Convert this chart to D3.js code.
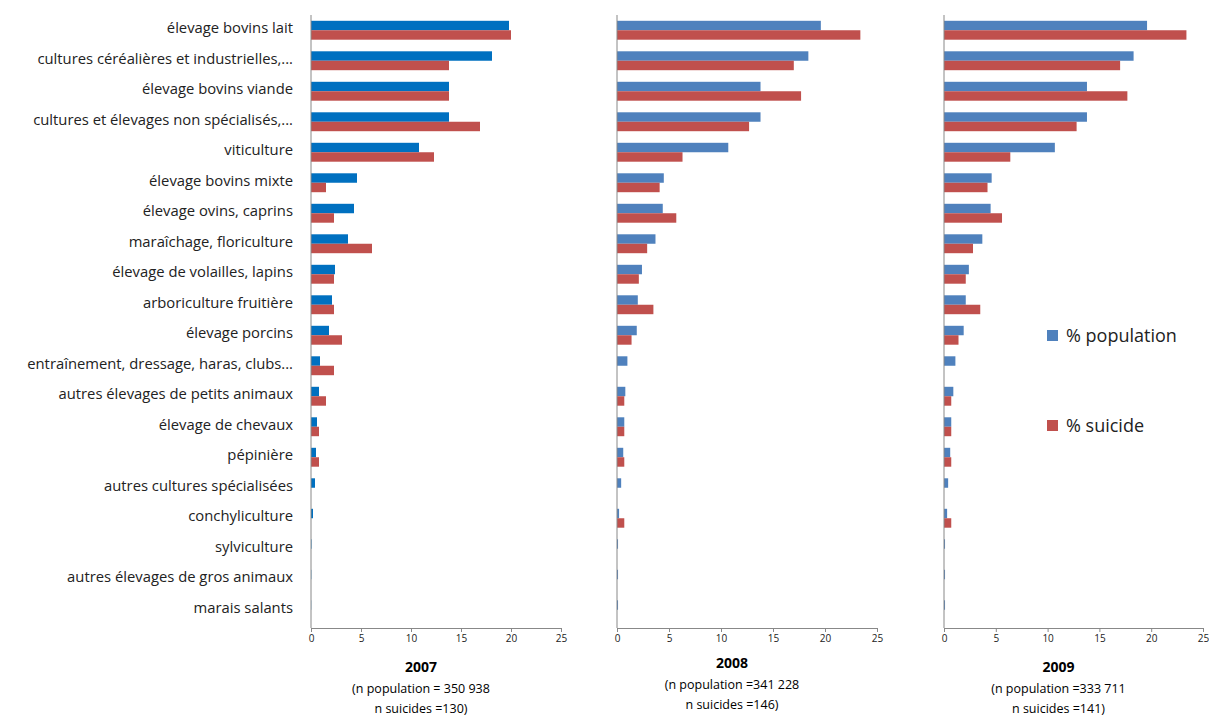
<!DOCTYPE html>
<html><head><meta charset="utf-8">
<script src="https://cdn.jsdelivr.net/npm/d3@7"></script>
<style>body{margin:0;background:#fff;font-family:"Open Sans",sans-serif;}</style>
</head><body><div id="chart"></div>
<script>
const categories = ["élevage bovins lait","cultures céréalières et industrielles,...","élevage bovins viande","cultures et élevages non spécialisés,...","viticulture","élevage bovins mixte","élevage ovins, caprins","maraîchage, floriculture","élevage de volailles, lapins","arboriculture fruitière","élevage porcins","entraînement, dressage, haras, clubs...","autres élevages de petits animaux","élevage de chevaux","pépinière","autres cultures spécialisées","conchyliculture","sylviculture","autres élevages de gros animaux","marais salants"];
const pop2007 = [19.8,18.1,13.8,13.8,10.8,4.6,4.3,3.7,2.4,2.1,1.8,0.9,0.8,0.6,0.5,0.4,0.2,0.05,0.03,0.02];
const sui2007 = [20.0,13.8,13.8,16.9,12.3,1.5,2.3,6.1,2.3,2.3,3.1,2.3,1.5,0.8,0.8,0,0,0,0,0];
const pop2008 = [19.6,18.4,13.8,13.8,10.7,4.5,4.4,3.7,2.4,2.0,1.9,1.0,0.8,0.7,0.6,0.4,0.2,0.1,0.1,0.1];
const sui2008 = [23.4,17.0,17.7,12.7,6.3,4.1,5.7,2.9,2.1,3.5,1.4,0,0.7,0.7,0.7,0,0.7,0,0,0];
const pop2009 = [19.6,18.3,13.8,13.8,10.7,4.6,4.5,3.7,2.4,2.1,1.9,1.1,0.9,0.7,0.6,0.4,0.3,0.1,0.1,0.1];
const sui2009 = [23.4,17.0,17.7,12.8,6.4,4.2,5.6,2.8,2.1,3.5,1.4,0,0.7,0.7,0.7,0,0.7,0,0,0];
const ticks = [0,5,10,15,20,25];
const panels = [
  {year:"2007", pop:pop2007, sui:sui2007, x0:311, x1:561, blue:"#0070C0", ty:672, lines:["(n population = 350 938","n suicides =130)"]},
  {year:"2008", pop:pop2008, sui:sui2008, x0:617, x1:877, blue:"#4F81BD", ty:668, lines:["(n population =341 228","n suicides =146)"]},
  {year:"2009", pop:pop2009, sui:sui2009, x0:944, x1:1203, blue:"#4F81BD", ty:672, lines:["(n population =333 711","n suicides =141)"]}
];
const red = "#C0504D";
const svg = d3.select("#chart").append("svg").attr("width",1209).attr("height",722);
const y = d3.scaleBand().domain(categories).range([15,625]).paddingInner(0.38).paddingOuter(0.19);
const bh = y.bandwidth()/2;

svg.append("g").selectAll("text").data(categories).join("text")
  .attr("x",293).attr("y",d=>y(d)+bh+3).attr("text-anchor","end")
  .attr("font-size",14.8).attr("fill","#222").text(d=>d);

panels.forEach(p => {
  const x = d3.scaleLinear().domain([0,25]).range([p.x0,p.x1]);
  const g = svg.append("g");
  g.selectAll(".b").data(p.pop).join("rect")
    .attr("x",x(0)).attr("y",(d,i)=>y(categories[i])).attr("height",bh)
    .attr("width",d=>x(d)-x(0)).attr("fill",p.blue);
  g.selectAll(".r").data(p.sui).join("rect")
    .attr("x",x(0)).attr("y",(d,i)=>y(categories[i])+bh).attr("height",bh)
    .attr("width",d=>x(d)-x(0)).attr("fill",red);
  g.append("line").attr("x1",x(0)).attr("x2",x(0)).attr("y1",15).attr("y2",628).attr("stroke","#888");
  const ax = g.append("g").attr("transform","translate(0,628)")
    .call(d3.axisBottom(x).tickValues(ticks).tickSize(4).tickSizeOuter(0));
  ax.select(".domain").attr("stroke","#888");
  ax.selectAll("line").attr("stroke","#888");
  ax.selectAll("text").attr("font-size",10).attr("fill","#222").attr("font-family","'Open Sans',sans-serif");
  const cx = (p.x0+p.x1)/2 - 15;
  g.append("text").attr("x",cx).attr("y",p.ty).attr("text-anchor","middle")
    .attr("font-size",14).attr("font-weight","bold").text(p.year);
  p.lines.forEach((t,i)=> g.append("text").attr("x",cx).attr("y",p.ty+21+i*20)
    .attr("text-anchor","middle").attr("font-size",12.5).text(t));
});

const legend = [{label:"% population", color:"#4F81BD", y:336},{label:"% suicide", color:red, y:426}];
legend.forEach(l=>{
  svg.append("rect").attr("x",1047).attr("y",l.y-6).attr("width",11).attr("height",11).attr("fill",l.color);
  svg.append("text").attr("x",1066).attr("y",l.y+6).attr("font-size",18).attr("fill","#222").text(l.label);
});
</script></body></html>
